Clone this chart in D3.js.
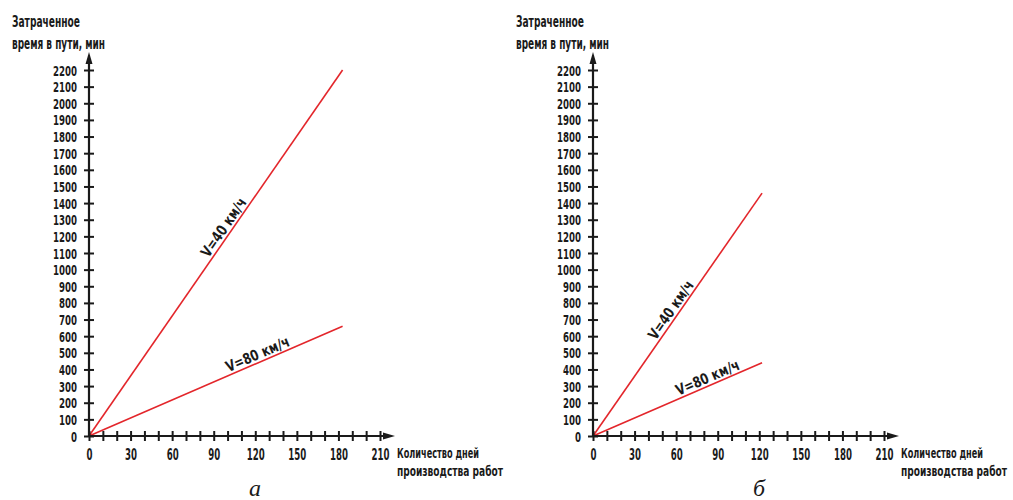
<!DOCTYPE html>
<html>
<head>
<meta charset="utf-8">
<script src="https://cdn.jsdelivr.net/npm/d3@7"></script>
<style>
  html, body { margin: 0; padding: 0; background: #fff; }
  svg text { font-family: "DejaVu Sans Condensed", "DejaVu Sans", sans-serif; font-weight: bold; fill: #1a1a1a; }
  svg text.cap { font-family: "Liberation Serif", serif; font-style: italic; font-weight: normal; font-size: 24px; }
</style>
</head>
<body>
<svg id="chart" width="1013" height="500"></svg>
<script>
/* ── data ── */
const yTicks = d3.range(0, 2201, 100);          // 0..2200 min
const xLabels = [0, 30, 60, 90, 120, 150, 180, 210];
const xMinor = d3.range(0, 211, 10);
const yTitle = ["Затраченное", "время в пути, мин"];
const xTitle = ["Количество дней", "производства работ"];

// panel a: ~half a year of work
const seriesA40 = [[0, 0], [183, 2200]];
const seriesA80 = [[0, 0], [183, 660]];
// panel б: ~4 months
const seriesB40 = [[0, 0], [122, 1460]];
const seriesB80 = [[0, 0], [122, 440]];

const panels = [
  { cap: "а", ox: 89,  lines: [
      { name: "V=40 км/ч", data: seriesA40, at: 102 },
      { name: "V=80 км/ч", data: seriesA80, at: 124 } ] },
  { cap: "б", ox: 593, lines: [
      { name: "V=40 км/ч", data: seriesB40, at: 61 },
      { name: "V=80 км/ч", data: seriesB80, at: 85 } ] }
];

const OY = 436;            // origin y
const svg = d3.select("#chart");
const fmt = d3.format("d");

// squeeze text to a given width (the drawing uses a narrow drafting font)
function squeeze(sel, w) {
  sel.attr("textLength", w).attr("lengthAdjust", "spacingAndGlyphs");
}

panels.forEach(p => {
  const g = svg.append("g").attr("transform", `translate(${p.ox},${OY})`);
  const x = d3.scaleLinear().domain([0, 210]).range([0, 291]);
  const y = d3.scaleLinear().domain([0, 2200]).range([0, -366]);

  /* red lines first, axes on top */
  const line = d3.line().x(d => x(d[0])).y(d => y(d[1]));
  p.lines.forEach(l => {
    g.append("path").datum(l.data).attr("d", line)
      .attr("fill", "none").attr("stroke", "#e3262b").attr("stroke-width", 1.6);
    const [a, b] = l.data;
    const ang = Math.atan2(y(b[1]) - y(a[1]), x(b[0]) - x(a[0])) * 180 / Math.PI;
    const v = a[1] + (b[1] - a[1]) * (l.at - a[0]) / (b[0] - a[0]);
    g.append("text")
      .attr("transform", `translate(${x(l.at)},${y(v)}) rotate(${ang})`)
      .attr("text-anchor", "middle").attr("dy", -3)
      .attr("font-size", 15).text(l.name).call(squeeze, 68);
  });

  /* y axis */
  const yAx = g.append("g").call(d3.axisLeft(y).tickValues(yTicks).tickSize(5).tickPadding(7).tickFormat(fmt));
  yAx.select(".domain").remove();
  yAx.selectAll(".tick line").attr("x1", -5).attr("x2", 5)
    .attr("stroke", "#1a1a1a").attr("stroke-width", 2);
  yAx.selectAll(".tick text").attr("font-size", 14)
    .attr("font-family", null).attr("dy", "0.36em")
    .each(function (d) { squeeze(d3.select(this), String(d).length * 6); });
  g.append("line").attr("x1", 0).attr("x2", 0).attr("y1", 0).attr("y2", -376)
    .attr("stroke", "#1a1a1a").attr("stroke-width", 2.2);
  g.append("path").attr("d", "M0,-384 L-3.5,-372 L3.5,-372 Z").attr("fill", "#1a1a1a");

  /* x axis */
  const xAx = g.append("g").call(d3.axisBottom(x).tickValues(xMinor).tickSize(5).tickPadding(8)
    .tickFormat(d => xLabels.includes(d) ? fmt(d) : ""));
  xAx.select(".domain").remove();
  xAx.selectAll(".tick line").attr("y1", -5).attr("y2", 5)
    .attr("stroke", "#1a1a1a").attr("stroke-width", 2);
  xAx.selectAll(".tick text").attr("font-size", 16).attr("font-family", null)
    .filter(d => xLabels.includes(d))
    .each(function (d) { squeeze(d3.select(this), String(d).length * 6); });
  g.append("line").attr("x1", 0).attr("x2", 298).attr("y1", 0).attr("y2", 0)
    .attr("stroke", "#1a1a1a").attr("stroke-width", 2.2);
  g.append("path").attr("d", "M306,0 L294,-3.5 L294,3.5 Z").attr("fill", "#1a1a1a");

  /* titles */
  const yW = [68, 93], xW = [82, 106];
  g.selectAll(".yt").data(yTitle).join("text").attr("class", "yt")
    .attr("x", -77).attr("y", (d, i) => -409 + i * 22).attr("font-size", 15)
    .text(d => d).each(function (d, i) { squeeze(d3.select(this), yW[i]); });
  g.selectAll(".xt").data(xTitle).join("text").attr("class", "xt")
    .attr("x", 308).attr("y", (d, i) => 22 + i * 18).attr("font-size", 14)
    .text(d => d).each(function (d, i) { squeeze(d3.select(this), xW[i]); });

  g.append("text").attr("class", "cap").attr("x", 166).attr("y", 60)
    .attr("text-anchor", "middle").text(p.cap);
});
</script>
</body>
</html>
